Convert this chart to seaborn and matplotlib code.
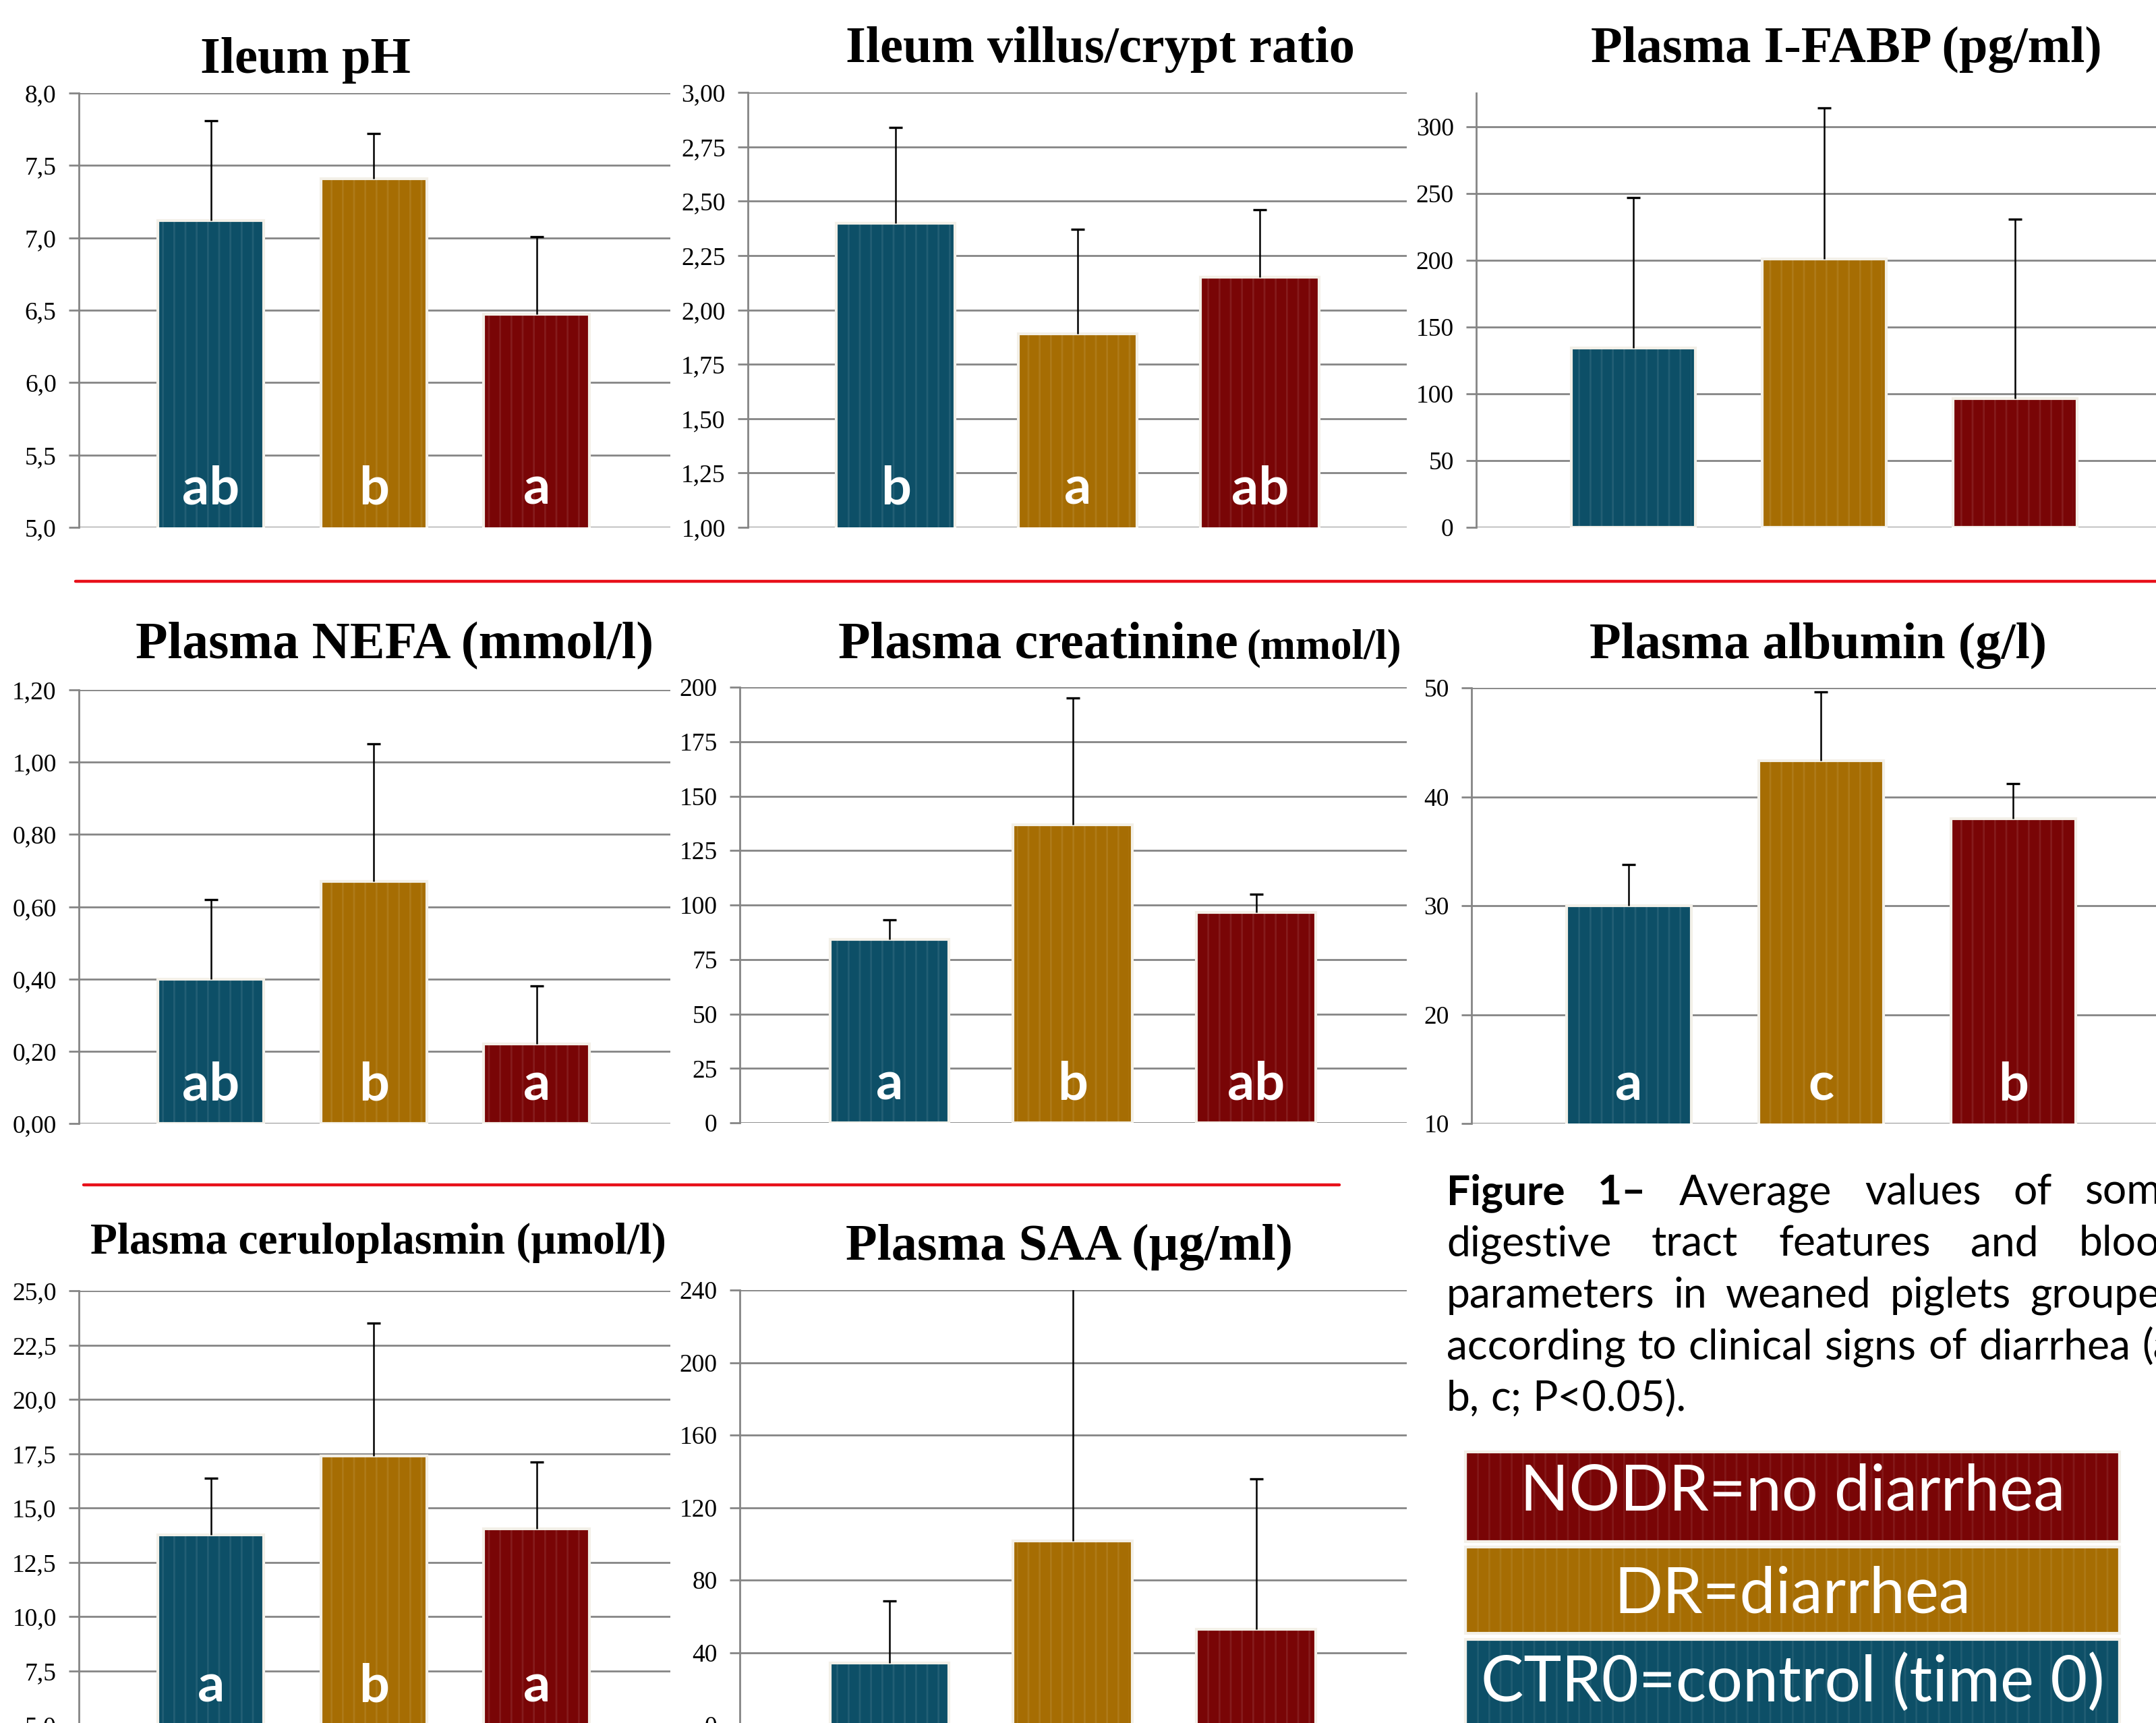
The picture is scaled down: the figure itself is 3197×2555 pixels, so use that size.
import numpy as np
import pandas as pd
import matplotlib
matplotlib.use("Agg")
import matplotlib.pyplot as plt
import seaborn as sns
from matplotlib.ticker import FixedLocator, FuncFormatter
from matplotlib.patches import Rectangle
from matplotlib.lines import Line2D

# ---------------- data ----------------
groups = ["CTR0", "DR", "NODR"]
group_colors = ["#0d4f67", "#a66d03", "#790506"]

ileum_ph_mean = [7.12, 7.41, 6.47]
ileum_ph_upper = [7.81, 7.72, 7.01]
ileum_ph_letters = ["ab", "b", "a"]

villus_crypt_mean = [2.40, 1.89, 2.15]
villus_crypt_upper = [2.84, 2.37, 2.46]
villus_crypt_letters = ["b", "a", "ab"]

ifabp_mean = [134.4, 200.8, 96.3]
ifabp_upper = [246.6, 313.8, 230.7]
ifabp_letters = ["", "", ""]

nefa_mean = [0.40, 0.67, 0.22]
nefa_upper = [0.62, 1.05, 0.38]
nefa_letters = ["ab", "b", "a"]

creatinine_mean = [84.3, 136.8, 96.5]
creatinine_upper = [93.3, 195.0, 104.8]
creatinine_letters = ["a", "b", "ab"]

albumin_mean = [30.0, 43.3, 38.0]
albumin_upper = [33.8, 49.6, 41.2]
albumin_letters = ["a", "c", "b"]

cerulo_mean = [13.77, 17.38, 14.04]
cerulo_upper = [16.36, 23.51, 17.10]
cerulo_letters = ["a", "b", "a"]

saa_mean = [34.1, 101.4, 52.9]
saa_upper = [68.3, 246.0, 136.0]
saa_letters = ["", "", ""]

ticks_ph = [5.0, 5.5, 6.0, 6.5, 7.0, 7.5, 8.0]
ticks_vc = [1.00, 1.25, 1.50, 1.75, 2.00, 2.25, 2.50, 2.75, 3.00]
ticks_ifabp = [0, 50, 100, 150, 200, 250, 300]
ticks_nefa = [0.0, 0.2, 0.4, 0.6, 0.8, 1.0, 1.2]
ticks_creat = [0, 25, 50, 75, 100, 125, 150, 175, 200]
ticks_alb = [10, 20, 30, 40, 50]
ticks_cerulo = [5.0, 7.5, 10.0, 12.5, 15.0, 17.5, 20.0, 22.5, 25.0]
ticks_saa = [0, 40, 80, 120, 160, 200, 240]

legend_labels = ["NODR=no diarrhea", "DR=diarrhea", "CTR0=control (time 0)"]
legend_colors = ["#790506", "#a66d03", "#0d4f67"]
caption_lines = [
    "Figure 1– Average values of some",
    "digestive tract features and blood",
    "parameters in weaned piglets grouped",
    "according to clinical signs of diarrhea (a,",
    "b, c; P<0.05).",
]
caption_bold_words = 2

# ---------------- figure ----------------
W, H = 3197, 2555
sns.set_theme(style="white")
plt.rcParams["font.family"] = ["Liberation Serif", "DejaVu Serif"]
plt.rcParams["hatch.linewidth"] = 2.0

fig = plt.figure(figsize=(W / 100, H / 100), dpi=100)
fig.patch.set_facecolor("white")

SANS = ["Lato", "DejaVu Sans"]
SERIF = ["Liberation Serif", "DejaVu Serif"]
GRID = "#858585"
EDGE = "#f3f0e8"


def fig_box(l, t, r, b):
    return [l / W, 1 - b / H, (r - l) / W, (b - t) / H]


def dec_fmt(nd):
    return FuncFormatter(lambda v, p: f"{v:.{nd}f}".replace(".", ","))


def panel(box, xlim, ylim, ticks, nd, means, uppers, letters):
    ax = fig.add_axes(fig_box(*box))
    df = pd.DataFrame({"group": groups, "value": means})
    sns.barplot(data=df, x="group", y="value", hue="group", order=groups,
                hue_order=groups, palette=group_colors, saturation=1,
                width=0.65, edgecolor=EDGE, linewidth=3, errorbar=None,
                legend=False, ax=ax, zorder=3)
    xs = np.arange(len(groups))
    # subtle vertical stripe texture
    ax.bar(xs, means, width=0.61, facecolor="none",
           edgecolor=(1, 1, 1, 0.09), hatch="|", linewidth=0, zorder=3.5)
    means_a = np.asarray(means, float)
    ups_a = np.asarray(uppers, float)
    err = ax.errorbar(xs, means_a, yerr=[np.zeros(len(xs)), ups_a - means_a],
                      fmt="none", ecolor="black", elinewidth=1.8, capsize=7,
                      capthick=2.4, zorder=4)
    for cl in err[1]:
        if np.allclose(cl.get_ydata(), means_a):
            cl.set_visible(False)
    ax.set_xlim(*xlim)
    ax.set_ylim(*ylim)
    ax.yaxis.set_major_locator(FixedLocator(ticks))
    ax.yaxis.set_major_formatter(dec_fmt(nd))
    ax.grid(axis="y", color=GRID, linewidth=2)
    ax.grid(axis="x", visible=False)
    ax.set_axisbelow(True)
    for s in ["top", "right", "bottom"]:
        ax.spines[s].set_visible(False)
    ax.spines["left"].set_color(GRID)
    ax.spines["left"].set_linewidth(2)
    ax.tick_params(axis="y", left=True, length=11, width=2, color=GRID,
                   labelsize=27, pad=13, labelcolor="black")
    ax.tick_params(axis="x", length=0, labelbottom=False)
    for lab in ax.get_yticklabels():
        lab.set_family(SERIF)
    ax.set_xlabel("")
    ax.set_ylabel("")
    ax.patch.set_alpha(0)
    for x, lt in zip(xs, letters):
        if lt:
            ax.text(x, 0.053, lt, transform=ax.get_xaxis_transform(),
                    ha="center", va="baseline", color="white", fontsize=57,
                    fontweight="bold", family=SANS, zorder=5)
    return ax


# row 1
panel((117, 138, 994, 782), (-0.811, 2.82), (5.0, 8.0), ticks_ph, 1,
      ileum_ph_mean, ileum_ph_upper, ileum_ph_letters)
panel((1109, 137, 2086, 782), (-0.812, 2.807), (1.0, 3.0), ticks_vc, 2,
      villus_crypt_mean, villus_crypt_upper, villus_crypt_letters)
panel((2189, 138, 3197, 782), (-0.822, 2.74), (0, 325), ticks_ifabp, 0,
      ifabp_mean, ifabp_upper, ifabp_letters)
# row 2
panel((117, 1023, 994, 1666), (-0.811, 2.82), (0.0, 1.2), ticks_nefa, 2,
      nefa_mean, nefa_upper, nefa_letters)
panel((1097, 1019, 2086, 1665), (-0.816, 2.821), (0, 200), ticks_creat, 0,
      creatinine_mean, creatinine_upper, creatinine_letters)
panel((2182, 1020, 3197, 1666), (-0.819, 2.743), (10, 50), ticks_alb, 0,
      albumin_mean, albumin_upper, albumin_letters)
# row 3
panel((117, 1914, 994, 2558), (-0.811, 2.82), (5.0, 25.0), ticks_cerulo, 1,
      cerulo_mean, cerulo_upper, cerulo_letters)
panel((1097, 1913, 2086, 2558), (-0.816, 2.821), (0, 240), ticks_saa, 0,
      saa_mean, saa_upper, saa_letters)

# ---------------- titles ----------------
def title(cx, base, s, size):
    fig.text(cx / W, 1 - base / H, s, ha="center", va="baseline",
             fontsize=size, fontweight="bold", family=SERIF, color="black")

title(453, 108, "Ileum pH", 55)
title(1631, 92, "Ileum villus/crypt ratio", 55)
title(2738, 92, "Plasma I-FABP (pg/ml)", 55)
title(585, 976, "Plasma NEFA (mmol/l)", 56)
title(1539, 976, "Plasma creatinine", 56)
title(1963, 976, "(mmol/l)", 45)
title(2696, 976, "Plasma albumin (g/l)", 55)
title(561, 1859, "Plasma ceruloplasmin (µmol/l)", 47)
title(1585, 1868, "Plasma SAA (µg/ml)", 55)

# ---------------- red separators ----------------
fig.add_artist(Line2D([112 / W, 1.0], [1 - 862 / H] * 2, color="#e8101a", lw=3.2))
fig.add_artist(Line2D([124 / W, 1986 / W], [1 - 1757 / H] * 2, color="#e8101a", lw=3.2))

# ---------------- caption ----------------
renderer = fig.canvas.get_renderer()


def text_w(s, **kw):
    t = fig.text(0, 0, s, **kw)
    w = t.get_window_extent(renderer).width
    t.remove()
    return w

cap_fs = 40 * 1085 / text_w(caption_lines[3], fontsize=40, family=SANS)
cap_left, cap_right = 2145, 3238
cap_base0, cap_step = 1786, 76.4
word_idx = 0
for i, line in enumerate(caption_lines):
    words = line.split(" ")
    weights = []
    for w in words:
        weights.append("bold" if word_idx < caption_bold_words else "normal")
        word_idx += 1
    widths = [text_w(w, fontsize=cap_fs, family=SANS, fontweight=wt)
              for w, wt in zip(words, weights)]
    if i < len(caption_lines) - 1 and len(words) > 1:
        gap = (cap_right - cap_left - sum(widths)) / (len(words) - 1)
    else:
        gap = text_w("a b", fontsize=cap_fs, family=SANS) - text_w("ab", fontsize=cap_fs, family=SANS)
    x = cap_left
    y = 1 - (cap_base0 + i * cap_step) / H
    for w, wt, wd in zip(words, weights, widths):
        fig.text(x / W, y, w, ha="left", va="baseline", fontsize=cap_fs,
                 family=SANS, fontweight=wt, color="black")
        x += wd + gap

# ---------------- legend boxes ----------------
leg_fs = 65 * 808 / text_w(legend_labels[0], fontsize=65, family=SANS)
box_l, box_r = 2173, 3143
box_rows = [(2153, 2286, 2240), (2294, 2422, 2392), (2431, 2560, 2523)]
for (t, b, base), lab, col in zip(box_rows, legend_labels, legend_colors):
    fig.add_artist(Rectangle((box_l / W, 1 - b / H), (box_r - box_l) / W, (b - t) / H,
                             transform=fig.transFigure, facecolor=col,
                             edgecolor=EDGE, linewidth=3))
    fig.add_artist(Rectangle((box_l / W, 1 - b / H), (box_r - box_l) / W, (b - t) / H,
                             transform=fig.transFigure, facecolor="none",
                             edgecolor=(1, 1, 1, 0.08), hatch="|", linewidth=0))
    fig.text((box_l + box_r) / 2 / W, 1 - base / H, lab, ha="center", va="baseline",
             fontsize=leg_fs, family=SANS, color="white")

fig.savefig("out.png", dpi=100, facecolor="white")
